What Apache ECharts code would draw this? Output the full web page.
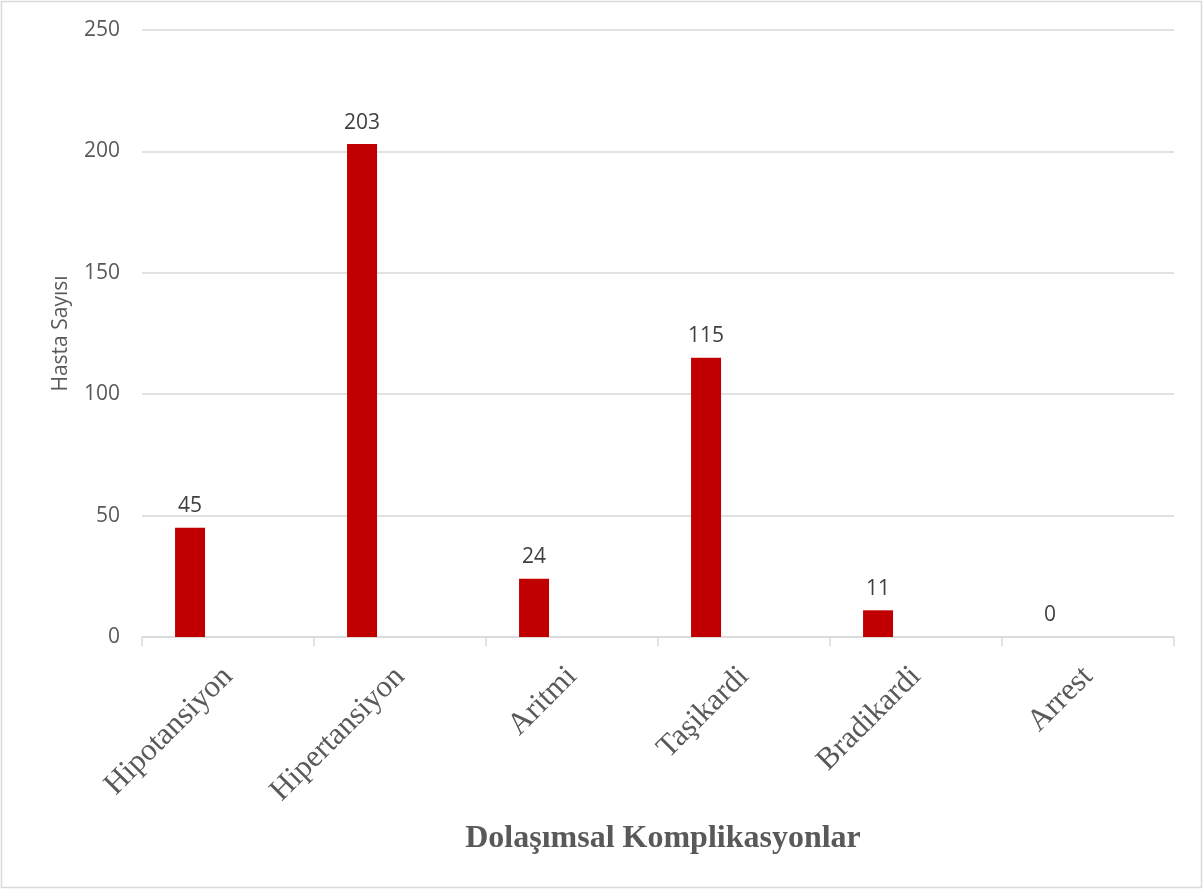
<!DOCTYPE html>
<html>
<head>
    <meta charset="utf-8" />
    <title>Dolaşımsal Komplikasyonlar</title>
    <script src="https://cdn.jsdelivr.net/npm/echarts@6/dist/echarts.min.js"></script>
    <style>
        body { margin: 0; background: #fff; }
        #main { width: 1204px; height: 891px; }
    </style>
</head>
<body>
    <div id="main"></div>
    <script type="text/javascript">
        // veriler
        var categories = ['Hipotansiyon', 'Hipertansiyon', 'Aritmi', 'Taşikardi', 'Bradikardi', 'Arrest'];
        var hastaSayisi = [45, 203, 24, 115, 11, 0];
        var emptySeries = [null, null, null, null, null, null];
        var yTicks = [0, 50, 100, 150, 200, 250];

        var myChart = echarts.init(document.getElementById('main'));

        var option = {
            backgroundColor: '#fff',
            animation: false,
            title: {
                text: 'Dolaşımsal Komplikasyonlar',
                left: 658,
                top: 818,
                textAlign: 'center',
                textStyle: {
                    fontFamily: 'Liberation Serif',
                    fontSize: 32,
                    fontWeight: 'bold',
                    color: '#595959'
                }
            },
            graphic: [{
                type: 'rect',
                shape: { x: 1.5, y: 1.5, width: 1200, height: 886 },
                style: { fill: 'none', stroke: '#d9d9d9', lineWidth: 1.5 },
                silent: true
            }],
            grid: { left: 142, right: 30, top: 30, bottom: 254 },
            xAxis: {
                type: 'category',
                data: categories,
                axisLine: { lineStyle: { color: '#d9d9d9', width: 1.5 } },
                axisTick: { show: true, alignWithLabel: false, length: 9, lineStyle: { color: '#d9d9d9', width: 1.5 } },
                axisLabel: {
                    rotate: 45,
                    margin: 35,
                    fontFamily: 'Liberation Serif',
                    fontSize: 31,
                    color: '#595959',
                    interval: 0
                }
            },
            yAxis: {
                type: 'value',
                min: yTicks[0],
                max: yTicks[yTicks.length - 1],
                interval: 50,
                name: 'Hasta Sayısı',
                nameLocation: 'middle',
                nameGap: 70,
                nameRotate: 90,
                nameTextStyle: { fontFamily: 'Open Sans', fontSize: 21, color: '#595959' },
                axisLine: { show: false },
                axisTick: { show: false },
                splitLine: { lineStyle: { color: '#d9d9d9', width: 1.5 } },
                axisLabel: { margin: 22, fontFamily: 'Open Sans', fontSize: 21, color: '#595959' }
            },
            series: [
                {
                    name: 'Hasta Sayısı',
                    type: 'bar',
                    data: hastaSayisi,
                    barWidth: 30,
                    barGap: '153%',
                    itemStyle: { color: '#C00000' },
                    label: {
                        show: true,
                        position: 'top',
                        distance: 11,
                        fontFamily: 'Open Sans',
                        fontSize: 21,
                        color: '#404040'
                    }
                },
                {
                    name: 'bos',
                    type: 'bar',
                    data: emptySeries,
                    barWidth: 30
                }
            ]
        };

        myChart.setOption(option);
    </script>
</body>
</html>
